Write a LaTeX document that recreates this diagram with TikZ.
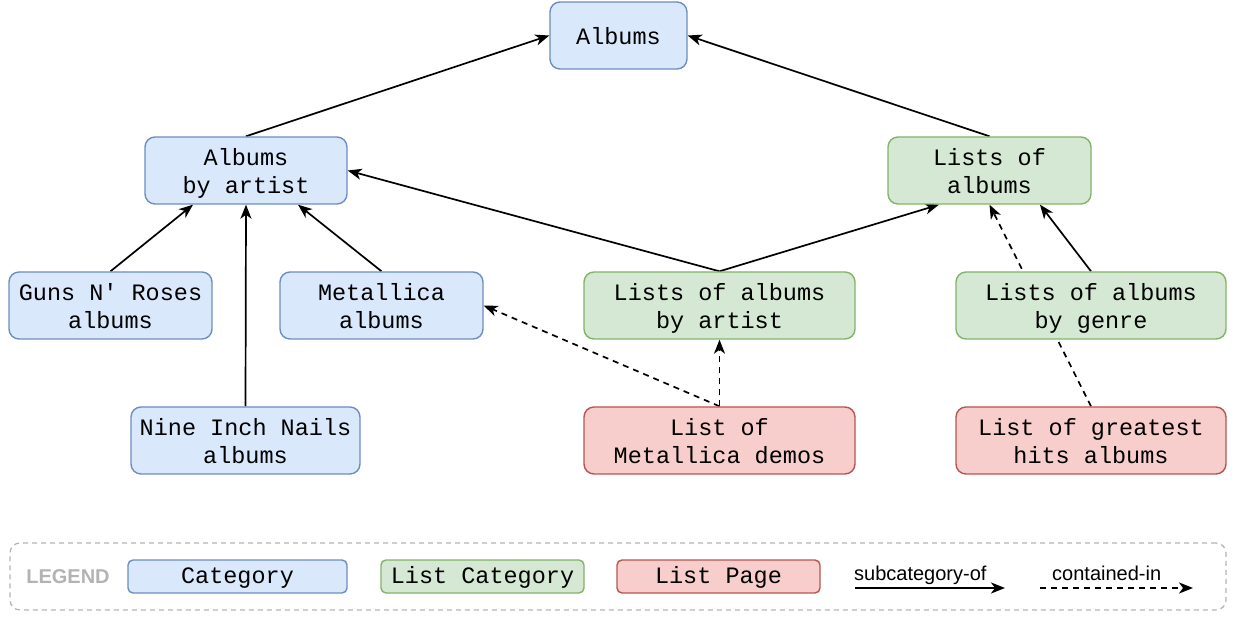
\documentclass[tikz,border=0pt]{standalone}
\usepackage{fontspec}
\setmainfont{Liberation Sans}
\setmonofont{Liberation Mono}
\usepackage{tikz}
\usetikzlibrary{arrows.meta, positioning}
\definecolor{catfill}{HTML}{DAE8FC}
\definecolor{catline}{HTML}{6C8EBF}
\definecolor{lcfill}{HTML}{D5E8D4}
\definecolor{lcline}{HTML}{82B366}
\definecolor{lpfill}{HTML}{F8CECC}
\definecolor{lpline}{HTML}{B85450}
\definecolor{legendgray}{HTML}{B3B3B3}
\pgfdeclarelayer{background}
\pgfsetlayers{background,main}
\tikzstyle{box} = [rectangle, rounded corners=10pt, minimum width=203pt, minimum height=67pt, inner sep=0pt, align=center, text depth=0pt, line width=1.4pt, font=\ttfamily\fontsize{23.5}{28}\selectfont]
\tikzstyle{catbox} = [box, draw=catline, fill=catfill]
\tikzstyle{listcatbox} = [box, draw=lcline, fill=lcfill]
\tikzstyle{listpagebox} = [box, draw=lpline, fill=lpfill]
\tikzstyle{keybox} = [minimum height=33pt, rounded corners=5pt, text height=14pt]
\tikzstyle{arrow} = [line width=1.7pt, -{Stealth[length=14pt, width=11pt, inset=4pt]}]
\tikzstyle{dasharrow} = [arrow, dash pattern=on 6pt off 5pt]

\begin{document}
\begin{tikzpicture}[x=1pt, y=-1pt]
		\useasboundingbox (0,0) rectangle (1235,617);
		% categories and list pages
		\node[catbox, minimum width=137pt] (albums) at (618.5,35.5) {Albums};
		\node[catbox, minimum width=202pt] (byartist) at (246,170.5) {Albums\\by artist};
		\node[listcatbox] (listsalbums) at (989.5,170.5) {Lists of\\albums};
		\node[catbox] (gnr) at (110.5,305.5) {Guns N' Roses\\albums};
		\node[catbox] (metallica) at (381.5,305.5) {Metallica\\albums};
		\node[listcatbox, minimum width=271pt] (listsbyartist) at (719.5,305.5) {Lists of albums\\by artist};
		\node[listcatbox, minimum width=270pt] (listsbygenre) at (1091,305.5) {Lists of albums\\by genre};
		\node[catbox, minimum width=229pt] (nin) at (245.5,440.5) {Nine Inch Nails\\albums};
		\node[listpagebox, minimum width=271pt] (demos) at (719.5,440.5) {List of\\Metallica demos};
		\node[listpagebox, minimum width=270pt] (greatest) at (1091,440.5) {List of greatest\\hits albums};

		\begin{pgfonlayer}{background}
		\draw[arrow] (byartist.north) -- (albums.west);
		\draw[arrow] (listsalbums.north) -- (albums.east);
		\draw[arrow] (gnr.north) -- ([xshift=-53pt]byartist.south);
		\draw[arrow] (nin.north) -- (byartist.south);
		\draw[arrow] (metallica.north) -- ([xshift=52pt]byartist.south);
		\draw[arrow] (listsbyartist.north) -- (byartist.east);
		\draw[arrow] (listsbyartist.north) -- ([xshift=-50.5pt]listsalbums.south);
		\draw[arrow] (listsbygenre.north) -- ([xshift=50.5pt]listsalbums.south);
		\draw[dasharrow] (greatest.north) -- (listsalbums.south);
		\draw[dasharrow] (demos.north) -- (listsbyartist.south);
		\draw[dasharrow] (demos.north) -- (metallica.east);
		\end{pgfonlayer}

		% legend
		\node[draw=legendgray, line width=1.2pt, dash pattern=on 5pt off 4pt, rounded corners=10pt, minimum width=1216pt, minimum height=67pt] (legend) at (618,576.5) {};
		\node[text=legendgray, font=\bfseries\fontsize{20}{24}\selectfont] (legendtitle) at (68,576.5) {LEGEND};
		\node[catbox, keybox, minimum width=219pt] (keycat) at (237.5,576.5) {Category};
		\node[listcatbox, keybox] (keylistcat) at (482.5,576.5) {List Category};
		\node[listpagebox, keybox] (keylistpage) at (718.5,576.5) {List Page};
		\coordinate (subfrom) at (855,588);
		\coordinate (subto) at (1005,588);
		\coordinate (confrom) at (1040,588);
		\coordinate (conto) at (1193,588);
		\draw[arrow] (subfrom) -- (subto);
		\draw[dasharrow] (confrom) -- (conto);
		\node[font=\fontsize{20}{24}\selectfont, anchor=base west, inner sep=0pt] (sublabel) at (854,580) {subcategory-of};
		\node[font=\fontsize{20}{24}\selectfont, anchor=base west, inner sep=0pt] (conlabel) at (1052,580) {contained-in};
	\end{tikzpicture}
\end{document}
